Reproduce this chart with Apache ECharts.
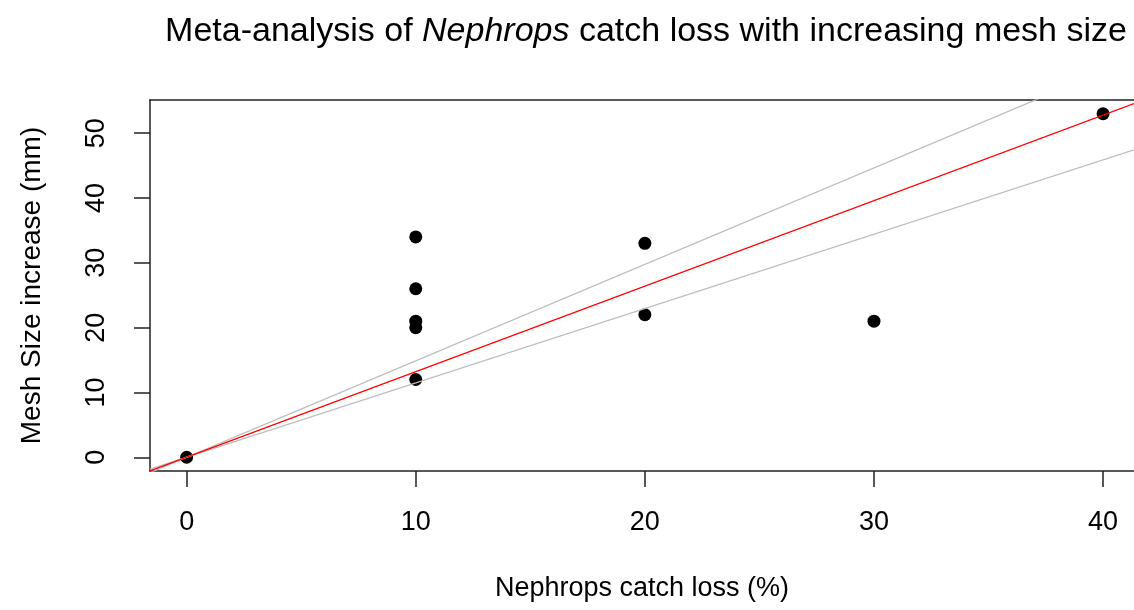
<!DOCTYPE html>
<html>
<head>
<meta charset="utf-8">
<script src="https://cdn.jsdelivr.net/npm/echarts@6/dist/echarts.min.js"></script>
<style>html,body{margin:0;padding:0;background:#fff}#c{width:1134px;height:610px}</style>
</head>
<body>
<div id="c"></div>
<script>
// Data
var catchLoss = [0, 10, 10, 10, 10, 10, 20, 20, 30, 40];
var meshIncrease = [0, 12, 20, 21, 26, 34, 22, 33, 21, 53];
var fitSlope = 1.32;      // fitted line through origin
var lowerSlope = 1.147;   // lower bound line
var upperSlope = 1.488;   // upper bound line
var xTicks = [0, 10, 20, 30, 40];
var yTicks = [0, 10, 20, 30, 40, 50];
var xRange = [-1.6, 41.35];
var yRange = [-2.12, 55.12];

var points = catchLoss.map(function (x, i) { return [x, meshIncrease[i]]; });
function abline(s) { return [[xRange[0], s * xRange[0]], [xRange[1], s * xRange[1]]]; }

var font = 'Liberation Sans, Arial, sans-serif';
var fs = 27;
var axisCol = '#222';
var chart = echarts.init(document.getElementById('c'));
chart.setOption({
  animation: false,
  backgroundColor: '#fff',
  title: {
    text: '{a|Meta-analysis of }{i|Nephrops}{a| catch loss with increasing mesh size}',
    left: 641, top: 10, textAlign: 'center',
    textStyle: {
      rich: {
        a: { fontFamily: font, fontSize: 34, color: '#000', fontWeight: 'normal' },
        i: { fontFamily: font, fontSize: 34, color: '#000', fontStyle: 'italic', fontWeight: 'normal' }
      }
    }
  },
  grid: { left: 150, top: 100, right: 0, bottom: 139, show: false, containLabel: false },
  xAxis: [{
    type: 'value', min: xRange[0], max: xRange[1], position: 'bottom',
    name: 'Nephrops catch loss (%)', nameLocation: 'middle', nameGap: 104,
    nameTextStyle: { fontFamily: font, fontSize: fs, color: '#000' },
    axisLine: { show: true, onZero: false, lineStyle: { color: axisCol, width: 1.5 } },
    axisTick: { show: true, length: 16, inside: false, customValues: xTicks, lineStyle: { color: axisCol, width: 1.5 } },
    axisLabel: { customValues: xTicks, margin: 38, fontFamily: font, fontSize: fs, color: '#000' },
    splitLine: { show: false }
  }, {
    type: 'value', min: xRange[0], max: xRange[1], position: 'top',
    axisLine: { show: true, onZero: false, lineStyle: { color: axisCol, width: 1.5 } },
    axisTick: { show: false }, axisLabel: { show: false }, splitLine: { show: false }
  }],
  yAxis: {
    type: 'value', min: yRange[0], max: yRange[1],
    name: 'Mesh Size increase (mm)', nameLocation: 'middle', nameGap: 104, nameRotate: 90,
    nameTextStyle: { fontFamily: font, fontSize: 28, color: '#000' },
    axisLine: { show: true, onZero: false, lineStyle: { color: axisCol, width: 1.5 } },
    axisTick: { show: true, length: 16, inside: false, customValues: yTicks, lineStyle: { color: axisCol, width: 1.5 } },
    axisLabel: { customValues: yTicks, rotate: 90, margin: 40, fontFamily: font, fontSize: fs, color: '#000' },
    splitLine: { show: false }
  },
  series: [
    { type: 'scatter', data: points, symbol: 'circle', symbolSize: 13, itemStyle: { color: '#000', opacity: 1 }, z: 2 },
    { type: 'line', data: abline(upperSlope), showSymbol: false, clip: true, lineStyle: { color: '#bebebe', width: 1.3 }, z: 3 },
    { type: 'line', data: abline(lowerSlope), showSymbol: false, clip: true, lineStyle: { color: '#bebebe', width: 1.3 }, z: 3 },
    { type: 'line', data: abline(fitSlope), showSymbol: false, clip: true, lineStyle: { color: '#ff0000', width: 1.3 }, z: 4 }
  ]
});
</script>
</body>
</html>
